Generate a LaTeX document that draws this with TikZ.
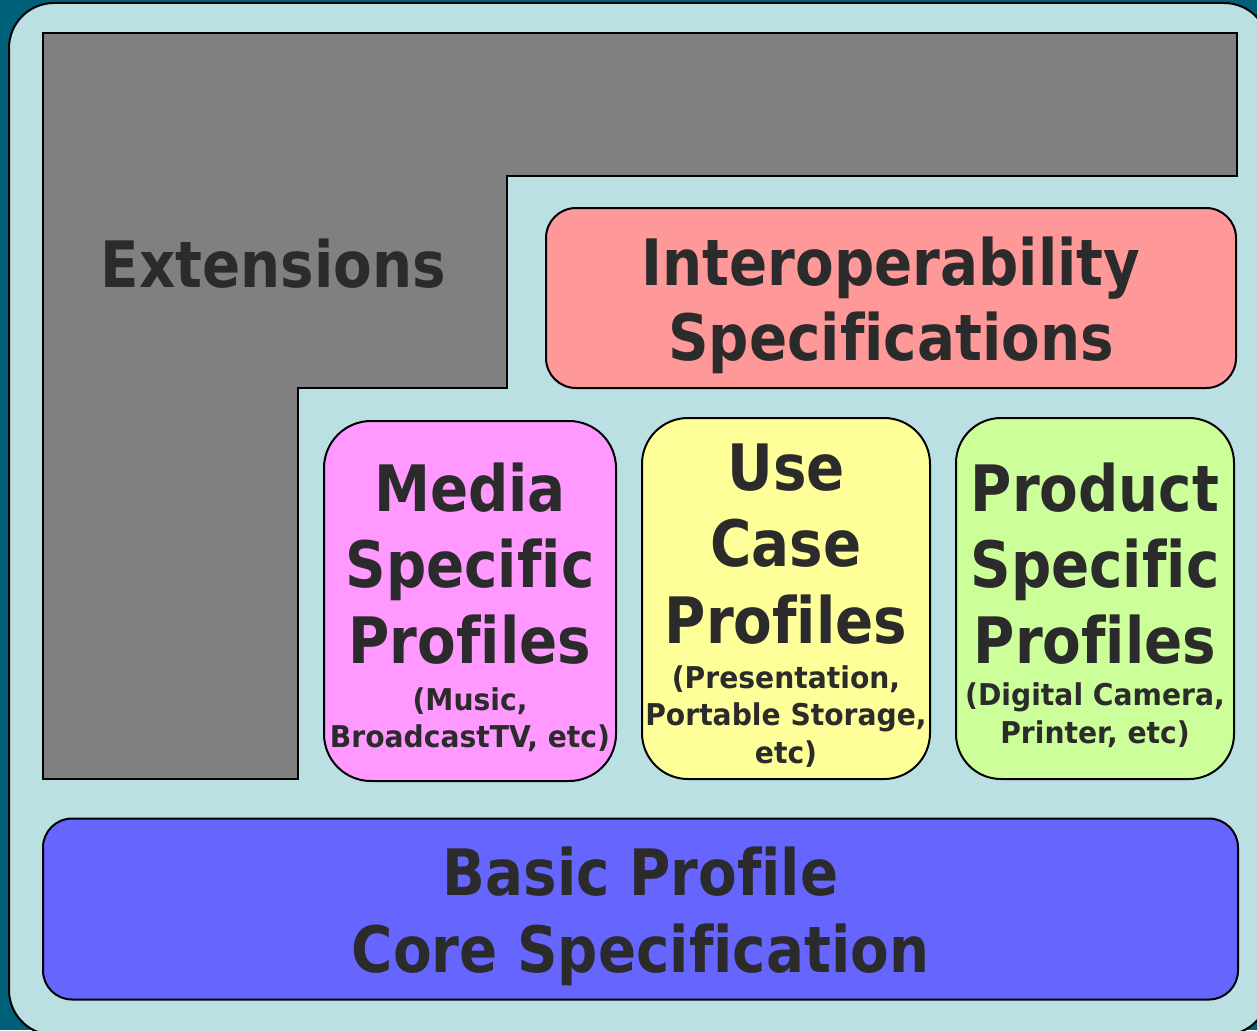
\documentclass[tikz,border=0pt]{standalone}
\usepackage{fontspec}
\newfontfamily\bigf{DejaVu Sans}[FakeStretch=0.88,Ligatures=NoCommon]
\newfontfamily\smallf{DejaVu Sans}[FakeStretch=0.94,Ligatures=NoCommon]
\definecolor{darkbg}{HTML}{00607A}
\definecolor{lightbg}{HTML}{BBE0E3}
\definecolor{extgray}{HTML}{808080}
\definecolor{interop}{HTML}{FF9999}
\definecolor{media}{HTML}{FF99FF}
\definecolor{usecase}{HTML}{FFFF99}
\definecolor{product}{HTML}{CCFF99}
\definecolor{basic}{HTML}{6666FF}
\definecolor{txt}{HTML}{2B2B2B}
\tikzset{
  layerbox/.style={draw=black, line width=2pt, rectangle, inner sep=0pt},
  bigtxt/.style={font=\bigf\bfseries\fontsize{64}{77}\selectfont, text=txt, anchor=base, inner sep=0pt},
  smalltxt/.style={font=\smallf\bfseries\fontsize{30}{37}\selectfont, text=txt, anchor=base, inner sep=0pt}
}
\begin{document}
\begin{tikzpicture}[x=1pt,y=-1pt]
\useasboundingbox (0,0) rectangle (1257,1030);
\clip (0,0) rectangle (1257,1030);
\fill[darkbg] (0,0) rectangle (1257,1030);
\draw[fill=lightbg, line width=2pt, rounded corners=45pt] (9,3) rectangle (1269,1035);
% Extensions L-shape
\draw[fill=extgray, line width=2pt] (43,33) -- (1237,33) -- (1237,176) -- (507,176) -- (507,388) -- (298,388) -- (298,779) -- (43,779) -- cycle;
% boxes
\node[layerbox, fill=interop, rounded corners=30pt, minimum width=690pt, minimum height=180pt] (interopbox) at (891,298) {};
\node[layerbox, fill=media, rounded corners=47pt, minimum width=292pt, minimum height=360pt] (mediabox) at (470,601) {};
\node[layerbox, fill=usecase, rounded corners=46pt, minimum width=288pt, minimum height=361pt] (usebox) at (786,598.5) {};
\node[layerbox, fill=product, rounded corners=45pt, minimum width=278pt, minimum height=361pt] (productbox) at (1095,598.5) {};
\node[layerbox, fill=basic, rounded corners=29pt, minimum width=1195pt, minimum height=181pt] (basicbox) at (640.5,909) {};
% texts
\node[bigtxt] (ext) at (273.5,287) {Extensions};
\node[bigtxt] (int1) at (891,285) {Interoperability};
\node[bigtxt] (int2) at (891,360) {Specifications};
\node[bigtxt] (med1) at (470,511) {Media};
\node[bigtxt] (med2) at (470,587) {Specific};
\node[bigtxt] (med3) at (470,663) {Profiles};
\node[smalltxt] (med4) at (470,710) {(Music,};
\node[smalltxt] (med5) at (470,747) {BroadcastTV, etc)};
\node[bigtxt] (use1) at (786,490) {Use};
\node[bigtxt] (use2) at (786,566) {Case};
\node[bigtxt] (use3) at (786,643) {Profiles};
\node[smalltxt] (use4) at (786,688) {(Presentation,};
\node[smalltxt] (use5) at (786,725) {Portable Storage,};
\node[smalltxt] (use6) at (786,763) {etc)};
\node[bigtxt] (pro1) at (1095,511) {Product};
\node[bigtxt] (pro2) at (1095,587) {Specific};
\node[bigtxt] (pro3) at (1095,663) {Profiles};
\node[smalltxt] (pro4) at (1095,705) {(Digital Camera,};
\node[smalltxt] (pro5) at (1095,743) {Printer, etc)};
\node[bigtxt] (bas1) at (640.5,895) {Basic Profile};
\node[bigtxt] (bas2) at (640.5,972) {Core Specification};
\end{tikzpicture}
\end{document}
